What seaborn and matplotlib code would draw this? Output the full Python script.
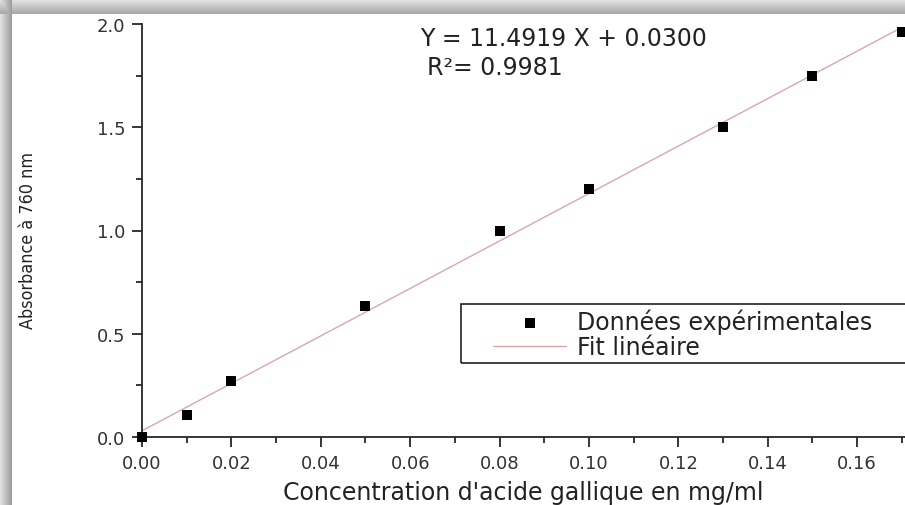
import numpy as np
import pandas as pd
import seaborn as sns
import matplotlib.pyplot as plt
from matplotlib import font_manager as fm
from matplotlib.patches import Rectangle
from matplotlib.ticker import MultipleLocator

concentration = [0.0, 0.01, 0.02, 0.05, 0.08, 0.10, 0.13, 0.15, 0.17]
absorbance = [0.0, 0.105, 0.27, 0.635, 1.0, 1.2, 1.5, 1.75, 1.96]
pente = 11.4919
ordonnee = 0.0300
r2 = 0.9981

df = pd.DataFrame({'conc': concentration, 'abs': absorbance})
df['fit'] = pente * df['conc'] + ordonnee

sns.set_style('ticks')
plt.rcParams['font.family'] = ['DejaVu Sans']

# police etroite pour le titre de l'axe y, si une est installee
narrow = None
for f in fm.fontManager.ttflist:
    if str(f.stretch) in ('condensed', 'semi-condensed', 'extra-condensed', '75', '87.5') \
            and f.style == 'normal' and f.weight in (400, 'normal', 'regular'):
        narrow = f
        break

fig = plt.figure(figsize=(9.05, 5.06), dpi=100)

# bord gris avec ombre (capture d'ecran)
bg = fig.add_axes([0, 0, 1, 1], zorder=-10)
h, w = 506, 905
yy = np.arange(h)[:, None] * np.ones((1, w))
xx = np.ones((h, 1)) * np.arange(w)[None, :]
img = np.ones((h, w))
top = yy < 15
img[top] = 0.90 - 0.24 * yy[top] / 14
left = xx < 12
img[left] = np.minimum(img[left], 0.88 - 0.26 * xx[left] / 11)
bg.imshow(img, cmap='gray', vmin=0, vmax=1, aspect='auto',
          extent=[0, 1, 0, 1], interpolation='bilinear')
bg.axis('off')

ax = fig.add_axes([142 / 905, 68 / 506, 763 / 905, 413 / 506])
ax.patch.set_alpha(0)

sns.lineplot(data=df, x='conc', y='fit', ax=ax, color='#d8a8a8', lw=1.0,
             label='Fit linéaire', zorder=2)
sns.scatterplot(data=df, x='conc', y='abs', ax=ax, marker='s', s=48,
                color='black', edgecolor='black', linewidth=0,
                label='Données expérimentales', zorder=3, clip_on=False)

ax.set_xlim(0, 0.1707)
ax.set_ylim(0, 2.0)
ax.xaxis.set_major_locator(MultipleLocator(0.02))
ax.xaxis.set_minor_locator(MultipleLocator(0.01))
ax.yaxis.set_major_locator(MultipleLocator(0.5))
ax.yaxis.set_minor_locator(MultipleLocator(0.25))
ax.set_xticklabels([f'{v:.2f}' for v in ax.get_xticks()])
ax.set_yticklabels([f'{v:.1f}' for v in ax.get_yticks()])
ax.tick_params(which='major', length=7, width=1.3, labelsize=13,
               labelcolor='#333333', pad=5)
ax.tick_params(which='minor', length=4, width=1.3)
for s in ['top', 'right']:
    ax.spines[s].set_visible(False)
for s in ['left', 'bottom']:
    ax.spines[s].set_linewidth(1.3)

ax.set_xlabel("Concentration d'acide gallique en mg/ml", fontsize=17,
              color='#222222')
ax.xaxis.set_label_coords(0.5, -0.105)

ylab = ax.set_ylabel('Absorbance à 760 nm', color='#222222')
if narrow is not None:
    ylab.set_fontfamily([narrow.name, 'Liberation Sans', 'DejaVu Sans'])
    ylab.set_fontstretch(narrow.stretch)
else:
    ylab.set_fontfamily(['Liberation Sans', 'DejaVu Sans'])
ylab.set_fontsize(14)
ax.yaxis.set_label_coords(-0.138, 0.477)
# ajuster la taille pour une longueur d'environ 178 px
fig.canvas.draw()
long_px = ylab.get_window_extent().height
ylab.set_fontsize(14 * 178 / long_px)

ax.text(0.364, 0.965, f'Y = {pente:.4f} X + {ordonnee:.4f}',
        transform=ax.transAxes, fontsize=17, color='#222222',
        ha='left', va='center')
ax.text(0.374, 0.895, f'R²= {r2:.4f}', transform=ax.transAxes,
        fontsize=17, color='#222222', ha='left', va='center')

# legende : cadre dessine a part, il depasse a droite comme sur l'original
ax.add_patch(Rectangle(((461 - 142) / 763, (438 - 364) / 413), 0.7, 59 / 413,
                       transform=ax.transAxes, fill=False, edgecolor='#222222',
                       lw=1.2, clip_on=False, zorder=4))
handles, labels = ax.get_legend_handles_labels()
leg = ax.legend(handles[::-1], labels[::-1], loc='upper left',
                bbox_to_anchor=((493 - 142) / 763, (438 - 310) / 413),
                fontsize=17, frameon=False, handlelength=3.1,
                borderpad=0, labelspacing=0.02, handletextpad=0.45,
                borderaxespad=0)
for t in leg.get_texts():
    t.set_color('#222222')

fig.savefig('out.png', dpi=100)
